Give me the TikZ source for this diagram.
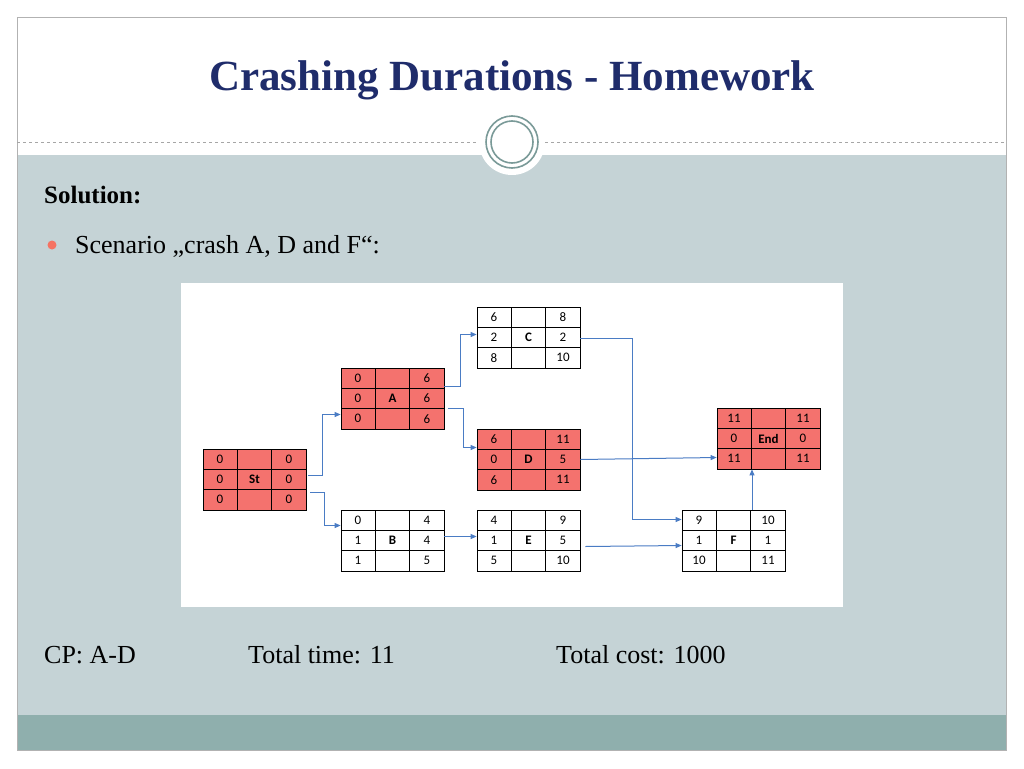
\documentclass[tikz,border=0pt]{standalone}
\usepackage{fontspec}
\setmainfont{Liberation Serif}
\newfontfamily\carl{Carlito}
\usetikzlibrary{arrows.meta}
\definecolor{navy}{HTML}{1F2C6B}
\definecolor{body}{HTML}{C5D3D6}
\definecolor{band}{HTML}{8FAFAD}
\definecolor{ring}{HTML}{7A9A98}
\definecolor{red1}{HTML}{F4726E}
\definecolor{arr}{HTML}{4A7CC4}
\tikzset{
  conn/.style={draw=arr,line width=1pt,-{Triangle[length=6pt,width=5pt]}},
  cell/.style={font=\carl\fontsize{13}{13}\selectfont,inner sep=0pt},
  txt/.style={anchor=base west,inner sep=0pt,font=\fontsize{26}{26}\selectfont}
}
\def\actfill{white}
% \act{x}{y}{tl}{tr}{ml}{mm=name}{mr}{bl}{br}
\newcommand\act[9]{%
  \node[draw=black,fill=\actfill,minimum width=103pt,minimum height=61pt,inner sep=0pt,line width=0.8pt] (#6) at (#1+51.5,#2+30.5) {};
  \draw[line width=0.8pt] (#1+34.3,#2)--(#1+34.3,#2+61) (#1+68.7,#2)--(#1+68.7,#2+61)
     (#1,#2+20.3)--(#1+103,#2+20.3) (#1,#2+40.7)--(#1+103,#2+40.7);
  \node[cell] (#6tl) at (#1+17,#2+10.2) {#3};
  \node[cell] (#6tr) at (#1+86,#2+10.2) {#4};
  \node[cell] (#6ml) at (#1+17,#2+30.5) {#5};
  \node[cell,font=\carl\bfseries\fontsize{13}{13}\selectfont] (#6mm) at (#1+51.5,#2+30.5) {#6};
  \node[cell] (#6mr) at (#1+86,#2+30.5) {#7};
  \node[cell] (#6bl) at (#1+17,#2+50.8) {#8};
  \node[cell] (#6br) at (#1+86,#2+50.8) {#9};
}
\begin{document}
\begin{tikzpicture}[x=1pt,y=-1pt]
\useasboundingbox (0,0) rectangle (1024,768);
\fill[white] (0,0) rectangle (1024,768);
\fill[body] (17,155) rectangle (1006,715);
\fill[band] (17,715) rectangle (1006,750);
\draw[gray!60,line width=0.8pt] (17,17) rectangle (1006,750);
\draw[gray!70,dashed,line width=0.8pt] (17,142)--(1006,142);
\fill[white] (512,142) circle (33);
\draw[ring,line width=1.6pt] (512,142) circle (26);
\draw[ring,line width=1.6pt] (512,142) circle (21);
\node[font=\bfseries\fontsize{43}{43}\selectfont,text=navy] (title) at (512,80) {Crashing Durations - Homework};
\node[txt,font=\bfseries\fontsize{25}{25}\selectfont] (sol) at (44,203) {Solution:};
\fill[red1!90!orange] (52,245) circle (4.5) coordinate (bul);
\node[txt] (scen) at (75,253) {Scenario „crash A, D and F“:};
\node[txt] (cp) at (44,663) {CP: A-D};
\node[txt] (tt) at (248,663) {Total time: 11};
\node[txt] (tc) at (556,663) {Total cost: 1000};
\fill[white] (181,283) rectangle (843,607);
\def\actfill{red1}
\act{203}{449}{0}{0}{0}{St}{0}{0}{0}
\act{341}{368}{0}{6}{0}{A}{6}{0}{6}
\act{477}{429}{6}{11}{0}{D}{5}{6}{11}
\act{717}{408}{11}{11}{0}{End}{0}{11}{11}
\def\actfill{white}
\act{477}{307}{6}{8}{2}{C}{2}{8}{10}
\act{341}{510}{0}{4}{1}{B}{4}{1}{5}
\act{477}{510}{4}{9}{1}{E}{5}{5}{10}
\act{682}{510}{9}{10}{1}{F}{1}{10}{11}
\draw[conn] (St.east|-Stmr) ++(2,-4) -| ++(14,-61) coordinate(s1) -- (s1-|A.west);
\draw[conn] (St.east|-Stmr) ++(4,13) -| ++(14,33) coordinate(s2) -- (s2-|B.west);
\draw[conn] (A.east|-Amr) ++(0,-12) -| ++(16,-52) coordinate(a1) -- (a1-|C.west);
\draw[conn] (A.east|-Amr) ++(4,10) -| ++(15,39) coordinate(a2) -- (a2-|D.west);
\draw[conn] (B.east|-Bmr) ++(0,-4) coordinate(b1) -- (b1-|E.west);
\draw[conn] (C.east|-Cmr) ++(0,1) -| ++(52,181) coordinate(c1) -- (c1-|F.west);
\draw[conn] (D.east|-Dmr) coordinate(d1) -- ([yshift=2pt]d1-|End.west);
\draw[conn] (E.east|-Emr) ++(5,6) coordinate(e1) -- ([yshift=1pt]e1-|F.west);
\draw[conn] ([xshift=18.5pt]F.north) -- ([xshift=-16.5pt]End.south);
\end{tikzpicture}
\end{document}
